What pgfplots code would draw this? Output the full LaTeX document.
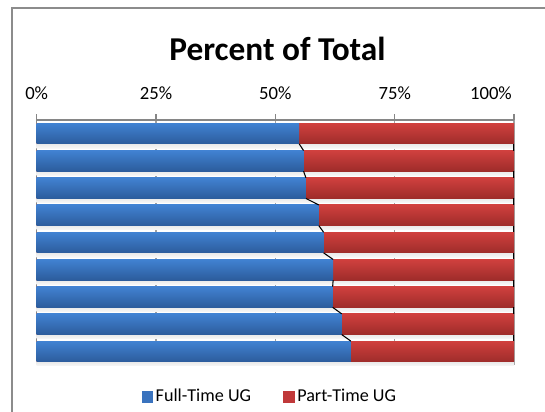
\documentclass[border=0pt]{standalone}
\usepackage{pgfplots}
\pgfplotsset{compat=1.18}
\usepackage{fontspec}
\setmainfont{Carlito}
\definecolor{bluetop}{HTML}{4182D2}
\definecolor{bluebot}{HTML}{2C5C9C}
\definecolor{ftblue}{HTML}{3A73BE}
\definecolor{redtop}{HTML}{D0403E}
\definecolor{redbot}{HTML}{9E2C2A}
\definecolor{ptred}{HTML}{C0393A}
\definecolor{axisgray}{HTML}{868686}
\definecolor{gridgray}{HTML}{A0A0A0}
\definecolor{bordergray}{HTML}{8C8C8C}
\pgfplotsset{
  shadowbar/.style={xbar, bar width=15.5pt, bar shift=-3.2pt, draw=none,
    top color=black!30, bottom color=black!3, forget plot},
  redbar/.style={xbar, bar width=15.5pt, bar shift=0pt, draw=none,
    top color=redtop, bottom color=redbot, forget plot},
  bluebar/.style={xbar, bar width=15.5pt, bar shift=0pt, draw=none,
    top color=bluetop, bottom color=bluebot, forget plot},
}
\begin{document}
\begin{tikzpicture}
\useasboundingbox (-27.5pt,90pt) rectangle (381.2pt,-218.25pt);
\draw[color=bordergray, line width=0.9pt] (-18.5pt,84pt) rectangle (440pt,-280pt);
\node[anchor=base, font=\fontsize{25}{30}\selectfont\bfseries] at (180.6pt,45pt) {Percent of Total};
\begin{axis}[
  at={(0pt,0pt)}, anchor=north west,
  scale only axis, width=358pt, height=183.75pt,
  xmin=0, xmax=100, ymin=0.5, ymax=9.5, y dir=reverse,
  axis x line*=top, axis y line*=left,
  axis line style={color=axisgray, line width=1.1pt},
  xtick={0,25,50,75,100}, ytick=\empty,
  xticklabels={0\%,25\%,50\%,75\%,\makebox[0pt][r]{100\%\hspace*{1.7pt}}},
  tick label style={font=\fontsize{14}{16}\selectfont},
  xticklabel style={yshift=7.5pt},
  tick align=outside, major tick length=4.5pt,
  tick style={color=axisgray, line width=0.9pt},
  xmajorgrids, grid style={color=gridgray, line width=0.9pt},
  legend style={at={(0.489,-0.128)}, anchor=center, draw=none, fill=none,
    legend columns=2, font=\fontsize{13.6}{16}\selectfont,
    /tikz/every even column/.append style={column sep=22pt}},
  legend cell align=left,
]
% shadows under bars
\addplot[shadowbar] coordinates {(100,1)};
\addplot[shadowbar] coordinates {(100,2)};
\addplot[shadowbar] coordinates {(100,3)};
\addplot[shadowbar] coordinates {(100,4)};
\addplot[shadowbar] coordinates {(100,5)};
\addplot[shadowbar] coordinates {(100,6)};
\addplot[shadowbar] coordinates {(100,7)};
\addplot[shadowbar] coordinates {(100,8)};
\addplot[shadowbar] coordinates {(100,9)};
% Part-Time UG: the remainder up to 100%
\addplot[redbar] coordinates {(100,1)};
\addplot[redbar] coordinates {(100,2)};
\addplot[redbar] coordinates {(100,3)};
\addplot[redbar] coordinates {(100,4)};
\addplot[redbar] coordinates {(100,5)};
\addplot[redbar] coordinates {(100,6)};
\addplot[redbar] coordinates {(100,7)};
\addplot[redbar] coordinates {(100,8)};
\addplot[redbar] coordinates {(100,9)};
% Full-Time UG share
\addplot[bluebar] coordinates {(55.0,1)};
\addplot[bluebar] coordinates {(55.9,2)};
\addplot[bluebar] coordinates {(56.4,3)};
\addplot[bluebar] coordinates {(59.1,4)};
\addplot[bluebar] coordinates {(60.1,5)};
\addplot[bluebar] coordinates {(62.1,6)};
\addplot[bluebar] coordinates {(62.0,7)};
\addplot[bluebar] coordinates {(63.9,8)};
\addplot[bluebar] coordinates {(65.8,9)};
% series lines
\addplot[black, line width=0.8pt, unbounded coords=jump, forget plot, mark=none]
  coordinates {(55.0,1.38) (55.9,1.62) (nan,nan)
               (55.9,2.38) (56.4,2.62) (nan,nan)
               (56.4,3.38) (59.1,3.62) (nan,nan)
               (59.1,4.38) (60.1,4.62) (nan,nan)
               (60.1,5.38) (62.1,5.62) (nan,nan)
               (62.1,6.38) (62.0,6.62) (nan,nan)
               (62.0,7.38) (63.9,7.62) (nan,nan)
               (63.9,8.38) (65.8,8.62)};
\addplot[black, line width=1.3pt, unbounded coords=jump, forget plot, mark=none]
  coordinates {(100,1.38) (100,1.62) (nan,nan)
               (100,2.38) (100,2.62) (nan,nan)
               (100,3.38) (100,3.62) (nan,nan)
               (100,4.38) (100,4.62) (nan,nan)
               (100,5.38) (100,5.62) (nan,nan)
               (100,6.38) (100,6.62) (nan,nan)
               (100,7.38) (100,7.62) (nan,nan)
               (100,8.38) (100,8.62)};
\addlegendimage{legend image code/.code={\fill[ftblue] (0pt,-4.1pt) rectangle (8.2pt,4.1pt);}}
\addlegendentry{Full-Time UG}
\addlegendimage{legend image code/.code={\fill[ptred] (0pt,-4.1pt) rectangle (8.2pt,4.1pt);}}
\addlegendentry{Part-Time UG}
\end{axis}
\end{tikzpicture}
\end{document}
